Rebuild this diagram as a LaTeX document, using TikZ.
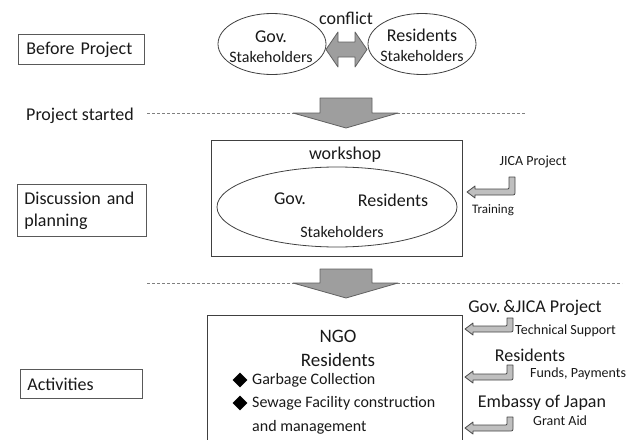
\documentclass[tikz,border=0pt]{standalone}
\usepackage{fontspec}
\setmainfont{Carlito}
\usetikzlibrary{shapes.geometric}
\tikzset{
  pics/bentarrow/.style={code={
    \draw[bentstyle] (42,-#1) -- (48,-#1) -- (48,-1) .. controls (48,3) .. (44,3) -- (8,3) -- (8,6) -- (0,0) -- (8,-6) -- (8,-3) -- (41,-3) .. controls (42,-3) .. (42,-4) -- cycle;
  }}
}
\begin{document}
\begin{tikzpicture}[x=1pt,y=-1pt,
  txt/.style={font=\fontsize{18}{22}\selectfont, inner sep=0pt, text=black!90},
  bigtxt/.style={font=\fontsize{19}{22}\selectfont, inner sep=0pt, text=black!90},
  midtxt/.style={font=\fontsize{16}{19}\selectfont, inner sep=0pt, text=black!90},
  smalltxt/.style={font=\fontsize{14}{16}\selectfont, inner sep=0pt, text=black!90},
  labelbox/.style={draw=black!65, line width=0.8pt, fill=white, font=\fontsize{18}{22}\selectfont, text=black!90, align=left, anchor=north west, inner ysep=0pt},
  ell/.style={ellipse, draw=black!75, line width=0.8pt, inner sep=0pt},
  frame/.style={draw=black!75, line width=0.8pt},
  blockarrow/.style={fill=black!38, draw=black!62, line width=0.8pt, line join=round},
  guide/.style={draw=black!50, dash pattern=on 3pt off 2pt, line width=0.6pt},
  bentstyle/.style={fill=black!25, draw=black!72, line width=0.8pt, line join=round},
  bulletmark/.style={diamond, fill=black, inner sep=0pt, minimum width=15pt, minimum height=15pt}
]
\useasboundingbox (0,0) rectangle (637,439);

% dashed guide lines
\coordinate (g1a) at (147,113);
\coordinate (g1b) at (525,113);
\coordinate (g2a) at (147,283);
\coordinate (g2b) at (622,283);
\draw[guide] (g1a) -- (g1b);
\draw[guide] (g2a) -- (g2b);

% left stage labels
\node[labelbox, minimum width=126pt, minimum height=30pt, text width=110pt, inner xsep=8pt] (before) at (18,34) {Before Project};
\node[labelbox, minimum width=129pt, minimum height=52pt, text width=115pt, inner xsep=7pt] (discuss) at (17,184) {Discussion and\\planning};
\node[labelbox, minimum width=122pt, minimum height=29pt, text width=108pt, inner xsep=7pt] (activ) at (20,369) {Activities};
\node[txt, anchor=west] (started) at (26,116) {Project started};

% before project: stakeholders in conflict
\node[ell, minimum width=108pt, minimum height=61pt] (gov) at (272,44) {};
\node[ell, minimum width=108pt, minimum height=61pt] (res) at (422,44) {};
\node[txt] (govt) at (271,37) {Gov.};
\node[midtxt] (govs) at (271,57) {Stakeholders};
\node[txt] (rest) at (422,35) {Residents};
\node[midtxt] (ress) at (422,56) {Stakeholders};
\node[txt] (conflict) at (346,18) {conflict};
\draw[blockarrow] (326,49.5) -- (338,32) -- (338,42) -- (355,42) -- (355,32) -- (367,49.5) -- (355,67) -- (355,57) -- (338,57) -- (338,67) -- cycle;

% arrow 1
\draw[blockarrow] (320,98) -- (372,98) -- (372,113) -- (398,113) -- (346,128) -- (293,113) -- (320,113) -- cycle;

% workshop
\node[frame, minimum width=251pt, minimum height=116pt, anchor=north west, inner sep=0pt] (ws) at (211,140) {};
\node[txt] (wst) at (345,155) {workshop};
\node[ell, minimum width=240pt, minimum height=80pt] (wse) at (337,207) {};
\node[txt] (wgov) at (290,199) {Gov.};
\node[txt] (wres) at (393,200) {Residents};
\node[midtxt] (wstk) at (342,232) {Stakeholders};
\node[smalltxt] (jica) at (533,162) {JICA Project};
\pic at (467,192) {bentarrow=15};
\node[font=\fontsize{13}{15}\selectfont, inner sep=0pt, text=black!90] (train) at (493,210) {Training};

% arrow 2
\draw[blockarrow] (320,269) -- (372,269) -- (372,283) -- (398,283) -- (346,298) -- (293,283) -- (320,283) -- cycle;

% activities box
\coordinate (nbl) at (207,440);
\coordinate (ntl) at (207,315);
\coordinate (ntr) at (462,315);
\coordinate (nbr) at (462,440);
\draw[frame] (nbl) -- (ntl) -- (ntr) -- (nbr);
\node[bigtxt] (ngo) at (338,336) {NGO};
\node[bigtxt] (nres) at (338,360) {Residents};
\node[bulletmark] (b1) at (240,380) {};
\node[midtxt, anchor=west] (t1) at (252,380) {Garbage Collection};
\node[bulletmark] (b2) at (240,403) {};
\node[midtxt, anchor=west] (t2) at (252,403) {Sewage Facility construction};
\node[midtxt, anchor=west] (t3) at (252,427) {and management};

% right-side supports
\node[txt] (gj) at (535,308) {Gov.\,\&JICA Project};
\pic at (465,329) {bentarrow=11};
\node[smalltxt, anchor=west] (tech) at (515,331) {Technical Support};
\node[txt] (rr) at (530,355) {Residents};
\pic at (465,377) {bentarrow=12};
\node[smalltxt, anchor=west] (funds) at (530,374) {Funds, Payments};
\node[txt] (emb) at (542,403) {Embassy of Japan};
\pic at (465,428) {bentarrow=11};
\node[smalltxt, anchor=west] (grant) at (533,421) {Grant Aid};
\end{tikzpicture}
\end{document}
